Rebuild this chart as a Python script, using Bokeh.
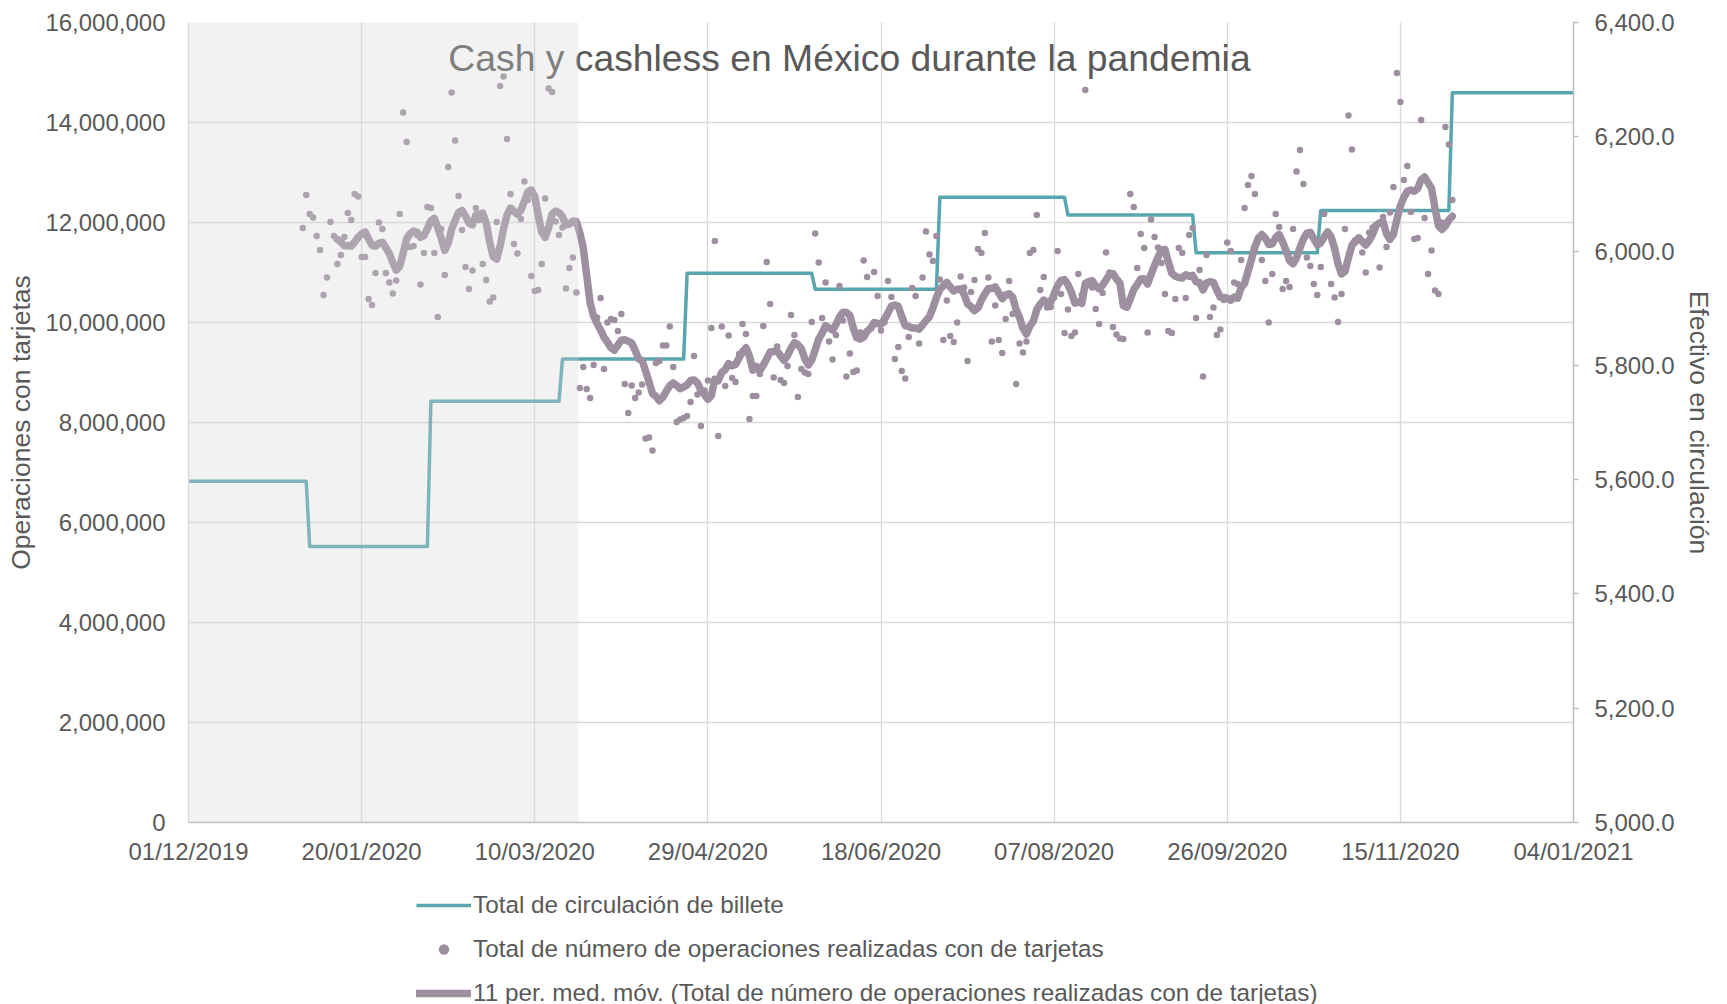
import pandas as pd
from bokeh.plotting import figure
from bokeh.layouts import column
from bokeh.models import (Range1d, LinearAxis, FixedTicker, NumeralTickFormatter,
                          DatetimeTickFormatter, Legend, LegendItem, Label, BoxAnnotation)
from bokeh.embed import file_html
from bokeh.resources import INLINE

FONT = "Liberation Sans"
TXT = "#595959"
TEAL = "#59a6af"
MAUVE = "#9d8fa0"
NAN = float("nan")

# ------------------------------------------------------------------ data
titulo = "Cash y cashless en México durante la pandemia"
x_inicio, x_fin = "2019-12-01", "2021-01-04"
x_ticks = ["2019-12-01", "2020-01-20", "2020-03-10", "2020-04-29", "2020-06-18",
           "2020-08-07", "2020-09-26", "2020-11-15", "2021-01-04"]
y_ticks_izq = [0, 2e6, 4e6, 6e6, 8e6, 10e6, 12e6, 14e6, 16e6]
y_ticks_der = [5000, 5200, 5400, 5600, 5800, 6000, 6200, 6400]

# Efectivo en circulación (eje derecho): fecha de inicio de cada nivel y valor
billete_inicio = ["2019-12-01", "2020-01-05", "2020-02-09", "2020-03-18", "2020-04-23",
                  "2020-05-30", "2020-07-05", "2020-08-11", "2020-09-17", "2020-10-23",
                  "2020-11-30"]
billete = [5597, 5483, 5737, 5811, 5961, 5933, 6094, 6063, 5997, 6071, 6277]
billete_fin = "2021-01-04"

# Operaciones diarias con tarjetas (millones), desde 2020-01-03
ops_inicio = "2020-01-03"
ops_millones = [
    11.89, 12.55, 12.17, 12.10, 11.73, 11.45, 10.55, 10.90, 12.01, 11.73,
    11.17, 11.35, 11.71, 12.19, 12.05, 12.57, 12.52, 11.31, 11.31, 10.47,
    10.35, 10.99, 12.00, 11.87, 10.99, 10.80, 10.58, 10.84, 12.17, 14.20,
    13.61, 11.51, 11.53, 11.75, 10.76, 11.39, 12.31, 12.29, 11.39, 10.11,
    11.87, 10.95, 13.11, 14.60, 13.64, 12.53, 11.85, 11.11, 10.67, 11.04,
    12.29, 12.05, 11.17, 10.85, 10.42, 10.50, 12.01, 14.73, 14.92, 13.67,
    12.57, 11.57, 11.38, 12.07, 12.82, 12.45, 10.93, 10.63, 10.65, 11.17,
    12.48, 14.68, 14.61, 12.02, 11.75, 11.90, 10.68, 11.09, 11.30, 10.60,
    8.69, 9.11, 8.67, 8.49, 9.15, 10.10, 10.49, 9.07, 10.00, 10.07,
    10.05, 9.83, 10.17, 8.77, 8.19, 8.74, 8.49, 8.60, 8.76, 7.68,
    7.70, 7.44, 9.19, 9.23, 9.54, 9.54, 9.92, 9.11, 8.01, 8.06,
    8.09, 8.13, 8.41, 9.33, 8.56, 7.93, 8.64, 8.84, 9.89, 11.63,
    7.73, 9.92, 8.73, 9.74, 8.89, 8.81, 9.37, 9.97, 9.77, 8.07,
    8.53, 8.53, 8.97, 9.93, 11.21, 10.37, 8.90, 9.52, 8.85, 8.79,
    9.13, 10.15, 9.75, 8.51, 9.07, 9.00, 8.97, 10.01, 11.78, 11.20,
    10.09, 10.80, 9.62, 9.26, 9.75, 10.73, 10.04, 8.92, 9.38, 9.01,
    9.04, 9.80, 11.24, 10.91, 9.90, 11.01, 10.53, 9.84, 10.00, 10.83,
    10.51, 9.27, 9.51, 9.03, 8.88, 9.71, 10.69, 10.53, 9.58, 10.90,
    11.82, 11.36, 11.23, 11.73, 10.86, 9.65, 10.44, 9.73, 9.61, 10.00,
    10.92, 10.70, 9.23, 10.61, 10.85, 11.47, 11.39, 11.79, 10.90, 9.62,
    10.34, 9.65, 9.39, 10.07, 10.83, 10.17, 8.77, 9.58, 9.40, 9.62,
    11.39, 11.45, 12.15, 10.65, 10.91, 10.30, 10.31, 10.50, 11.43, 10.57,
    9.79, 10.26, 9.73, 9.80, 10.97, 10.55, 14.65, 10.75, 10.70, 10.27,
    9.97, 10.59, 11.40, 11.00, 9.91, 9.76, 9.68, 9.67, 10.40, 12.57,
    12.31, 11.09, 11.77, 11.49, 9.80, 12.06, 11.71, 11.50, 11.19, 10.57,
    9.83, 9.79, 10.47, 11.49, 11.39, 10.49, 11.75, 11.89, 10.09, 11.05,
    8.92, 11.35, 10.11, 10.30, 9.75, 9.86, 10.45, 11.60, 11.43, 10.80,
    10.77, 11.25, 12.29, 12.75, 12.93, 12.57, 11.70, 11.25, 10.83, 10.00,
    10.97, 12.17, 11.91, 10.67, 10.83, 10.71, 11.87, 13.02, 13.45, 12.77,
    11.30, 11.13, 10.77, 10.55, 11.11, 12.17, 11.80, 10.77, 10.50, 10.01,
    10.57, 11.87, 14.14, 13.46, 11.60, 11.70, 11.40, 11.00, 11.80, 11.90,
    11.95, 11.10, 12.11, 11.51, 12.20, 12.71, 14.99, 14.41, 12.85, 13.13,
    12.21, 11.67, 11.69, 14.05, 12.09, 10.97, 11.44, 10.64, 10.57, 12.00,
    13.91, 13.56, 12.45,
]
ventana_mm = 11
fin_sombra = "2020-03-22 14:00"   # periodo previo a la pandemia (sombreado)

nombres = ["Total de circulación de billete",
           "Total de número de operaciones realizadas con de tarjetas",
           "11 per. med. móv. (Total de número de operaciones realizadas con de tarjetas)"]

# ------------------------------------------------------------------ derived series
ops_fechas = pd.date_range(ops_inicio, periods=len(ops_millones), freq="D")
ops = pd.Series([v * 1e6 for v in ops_millones], index=ops_fechas)
mm = ops.rolling(ventana_mm).mean().dropna()

ini = pd.to_datetime(billete_inicio)
fin = list(ini[1:] - pd.Timedelta(days=1)) + [pd.Timestamp(billete_fin)]
bx, by = [], []
for a, b, v in zip(ini, fin, billete):
    bx += [a, b]
    by += [v, v]

def ms(s):
    return pd.Timestamp(s).value / 1e6

# ------------------------------------------------------------------ main figure
p = figure(width=1727, height=880, output_backend="svg", toolbar_location=None,
           x_axis_type="datetime",
           x_range=Range1d(ms(x_inicio), ms(x_fin)), y_range=Range1d(0, 16e6),
           min_border_left=188, min_border_right=154, min_border_top=22,
           min_border_bottom=58)
p.outline_line_color = None
p.background_fill_color = "white"
p.border_fill_color = "white"
p.extra_y_ranges = {"efectivo": Range1d(5000, 6400)}

xa = p.xaxis[0]
xa.ticker = FixedTicker(ticks=[ms(t) for t in x_ticks])
fmt = "%d/%m/%Y"
xa.formatter = DatetimeTickFormatter(days=fmt, months=fmt, years=fmt, hours=fmt,
                                     minutes=fmt, hourmin=fmt)
xa.axis_line_color = "#bfbfbf"
xa.axis_line_width = 1.5
xa.major_tick_line_color = None
xa.minor_tick_line_color = None
xa.major_label_standoff = 9

ya = p.yaxis[0]
ya.ticker = FixedTicker(ticks=y_ticks_izq)
ya.formatter = NumeralTickFormatter(format="0,0")
ya.axis_line_color = "#d9d9d9"
ya.axis_line_width = 1.3
ya.major_tick_line_color = None
ya.minor_tick_line_color = None
ya.major_label_standoff = 17
ya.axis_label = "Operaciones con tarjetas"
ya.axis_label_standoff = 6

ra = LinearAxis(y_range_name="efectivo", ticker=FixedTicker(ticks=y_ticks_der),
                formatter=NumeralTickFormatter(format="0,0.0"),
                axis_label="Efectivo en circulación")
ra.axis_line_color = "#bfbfbf"
ra.axis_line_width = 1.5
ra.major_tick_line_color = "#bfbfbf"
ra.major_tick_line_width = 1.5
ra.major_tick_out = 5
ra.major_tick_in = 0
ra.minor_tick_line_color = None
ra.major_label_standoff = 16
ra.axis_label_standoff = 6
p.add_layout(ra, "right")

for ax in (xa, ya, ra):
    ax.major_label_text_font = FONT
    ax.major_label_text_font_size = "24px"
    ax.major_label_text_color = TXT
    ax.axis_label_text_font = FONT
    ax.axis_label_text_font_size = "26.5px"
    ax.axis_label_text_font_style = "normal"
    ax.axis_label_text_color = TXT

for g in (p.xgrid[0], p.ygrid[0]):
    g.grid_line_color = "#d9d9d9"
    g.grid_line_width = 1.3

bill_style = dict(line_color=TEAL, line_width=3.5, line_join="round")
ops_style = dict(marker="circle", size=6.5, fill_color=MAUVE, line_color=None)
mm_style = dict(line_color=MAUVE, line_width=7.5, line_join="round", line_cap="round")

p.line(bx, by, y_range_name="efectivo", **bill_style)
p.scatter(ops.index, ops.values, **ops_style)
p.line(mm.index, mm.values, **mm_style)

title_x = ms(x_inicio) + 190.9 * 86400000
p.add_layout(Label(x=title_x, y=15.29e6, text=titulo, text_align="center",
                   text_baseline="alphabetic", text_font=FONT,
                   text_font_size="37.3px", text_color=TXT))

# shaded pre-pandemic band (drawn over everything)
p.add_layout(BoxAnnotation(right=ms(fin_sombra), fill_color="#d6d6d6",
                           fill_alpha=0.31, line_alpha=0))

# ------------------------------------------------------------------ legend strip
q = figure(width=1727, height=124, output_backend="svg", toolbar_location=None,
           x_axis_location=None, y_axis_location=None,
           x_range=Range1d(0, 1), y_range=Range1d(0, 1),
           min_border_left=0, min_border_right=0, min_border_top=0, min_border_bottom=0)
q.outline_line_color = None
q.xgrid.visible = False
q.ygrid.visible = False
lr1 = q.line([NAN], [NAN], **bill_style)
lr2 = q.scatter([NAN], [NAN], **ops_style)
lr3 = q.line([NAN], [NAN], **mm_style)

legend = Legend(items=[LegendItem(label=nombres[0], renderers=[lr1]),
                       LegendItem(label=nombres[1], renderers=[lr2]),
                       LegendItem(label=nombres[2], renderers=[lr3])],
                location=(228, -2.5), orientation="vertical", padding=0, margin=0,
                spacing=16, glyph_width=55, glyph_height=26, label_height=26,
                label_standoff=2, label_text_font=FONT, label_text_font_size="24.3px",
                label_text_color=TXT, background_fill_alpha=0, border_line_color=None)
q.add_layout(legend)

open("out.html", "w").write(file_html(column(p, q), INLINE))
